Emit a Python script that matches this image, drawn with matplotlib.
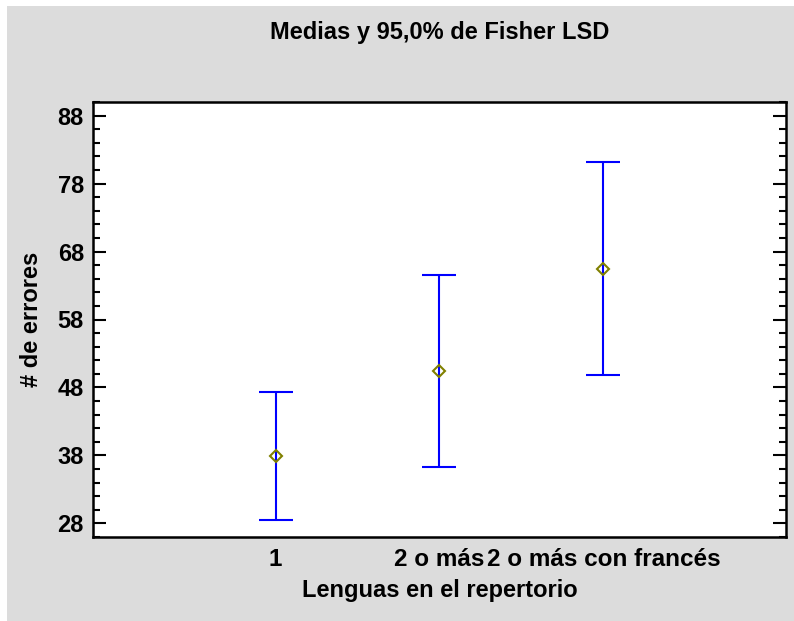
import matplotlib.pyplot as plt
from matplotlib.patches import Rectangle
from matplotlib.ticker import MultipleLocator

# Datos: medias e intervalos LSD de Fisher (95%)
grupos = ['1', '2 o más', '2 o más con francés']
medias = [37.9, 50.4, 65.5]
limite_inf = [28.5, 36.3, 49.8]
limite_sup = [47.4, 64.5, 81.2]
y_ticks = [28, 38, 48, 58, 68, 78, 88]

plt.rcParams['font.family'] = ['Liberation Sans', 'DejaVu Sans']
plt.rcParams['font.weight'] = 'bold'

fig = plt.figure(figsize=(7.94, 6.21), dpi=100)
fig.patch.set_facecolor('white')
# fondo gris del gráfico
fig.patches.append(Rectangle((7 / 794, 0), 1, 1 - 6 / 621, transform=fig.transFigure,
                             facecolor='#dcdcdc', edgecolor='none', zorder=-1))

ax = fig.add_axes([93 / 794, 84 / 621, 693 / 794, 435 / 621])
ax.set_facecolor('white')

x = list(range(1, len(grupos) + 1))
err_inf = [m - l for m, l in zip(medias, limite_inf)]
err_sup = [u - m for m, u in zip(medias, limite_sup)]

ax.errorbar(x, medias, yerr=[err_inf, err_sup], fmt='none', ecolor='#0000ff',
            elinewidth=1.5, capsize=12.2, capthick=1.5, zorder=2)
ax.plot(x, medias, linestyle='none', marker='D', markersize=6,
        markerfacecolor='none', markeredgecolor='#808000', markeredgewidth=1.5, zorder=3)

ax.set_xlim(-0.115, 4.115)
ax.set_ylim(26, 90)
ax.set_xticks(x)
ax.set_xticklabels(grupos, fontsize=17.5, fontweight='bold')
ax.set_yticks(y_ticks)
ax.set_yticklabels([str(t) for t in y_ticks], fontsize=17, fontweight='bold')
ax.yaxis.set_minor_locator(MultipleLocator(2))

ax.tick_params(axis='y', which='major', direction='in', length=9.5, width=1.5,
               left=True, right=True, pad=6.5)
ax.tick_params(axis='y', which='minor', direction='in', length=5, width=1.5,
               left=True, right=True)
ax.tick_params(axis='x', which='both', length=0, pad=8)

for s in ax.spines.values():
    s.set_linewidth(1.8)
    s.set_color('black')

fig.text(439.5 / 794, 1 - 32 / 621, 'Medias y 95,0% de Fisher LSD',
         ha='center', va='center', fontsize=17, fontweight='bold')
fig.text(439.5 / 794, 1 - 591 / 621, 'Lenguas en el repertorio',
         ha='center', va='center', fontsize=17, fontweight='bold')
fig.text(31 / 794, 1 - 319 / 621, '# de errores', rotation=90,
         ha='center', va='center', fontsize=17, fontweight='bold')

fig.savefig('out.png', dpi=100, facecolor=fig.get_facecolor())
